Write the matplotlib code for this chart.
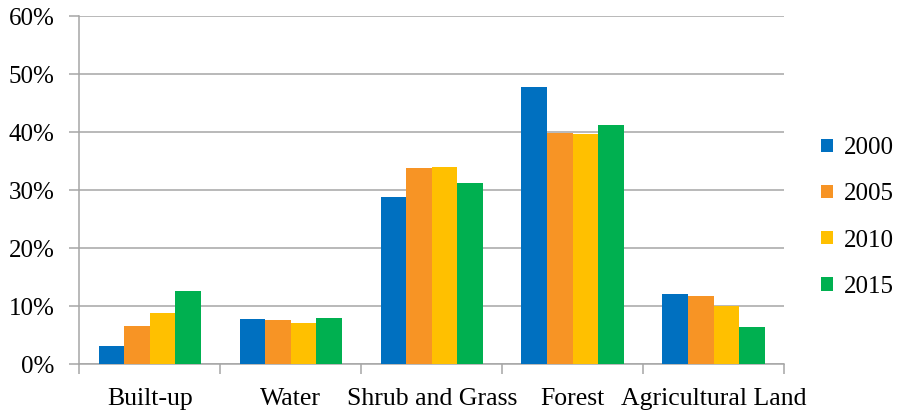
import numpy as np
import matplotlib.pyplot as plt
from matplotlib.ticker import PercentFormatter

plt.rcParams['font.family'] = ['Liberation Serif', 'DejaVu Serif']

categories = ["Built-up", "Water", "Shrub and Grass", "Forest", "Agricultural Land"]
years = ["2000", "2005", "2010", "2015"]
share_2000 = [3.1, 7.8, 28.8, 47.8, 12.1]
share_2005 = [6.6, 7.6, 33.8, 39.9, 11.7]
share_2010 = [8.9, 7.1, 34.0, 39.7, 10.0]
share_2015 = [12.6, 7.9, 31.2, 41.3, 6.5]
colors = ["#0070C0", "#F79425", "#FFC000", "#00B050"]

series = [share_2000, share_2005, share_2010, share_2015]

fig = plt.figure(figsize=(8.97, 4.12), dpi=100)
ax = fig.add_axes([0.0886, 0.1158, 0.7854, 0.8453])

x = np.arange(len(categories))
w = 0.726 / 4
for i, (vals, c, yr) in enumerate(zip(series, colors, years)):
    ax.bar(x + (i - 1.5) * w, vals, width=w, color=c, label=yr, zorder=3)

ax.set_xlim(-0.5, len(categories) - 0.5)
ax.set_ylim(0, 60)
ax.set_yticks(np.arange(0, 61, 10))
ax.yaxis.set_major_formatter(PercentFormatter(decimals=0))
ax.yaxis.grid(True, color="#A6A6A6", linewidth=1.1, zorder=0)

# category labels centered, ticks at group boundaries
ax.set_xticks(x)
ax.set_xticklabels(categories)
ax.set_xticks(np.arange(-0.5, len(categories)), minor=True)
ax.tick_params(axis="x", which="major", length=0, pad=17, labelsize=18.5)
ax.tick_params(axis="x", which="minor", length=7, color="#A6A6A6", width=1.1)
ax.tick_params(axis="y", length=7, color="#A6A6A6", width=1.1, pad=11, labelsize=18)

for s in ["top", "right"]:
    ax.spines[s].set_visible(False)
for s in ["left", "bottom"]:
    ax.spines[s].set_color("#A6A6A6")
    ax.spines[s].set_linewidth(1.1)

fig.legend(loc="center left", bbox_to_anchor=(0.8905, 0.472), frameon=False,
           fontsize=18, handlelength=0.45, handleheight=0.45, handletextpad=0.45,
           labelspacing=0.97)

fig.savefig("out.png", dpi=100)
